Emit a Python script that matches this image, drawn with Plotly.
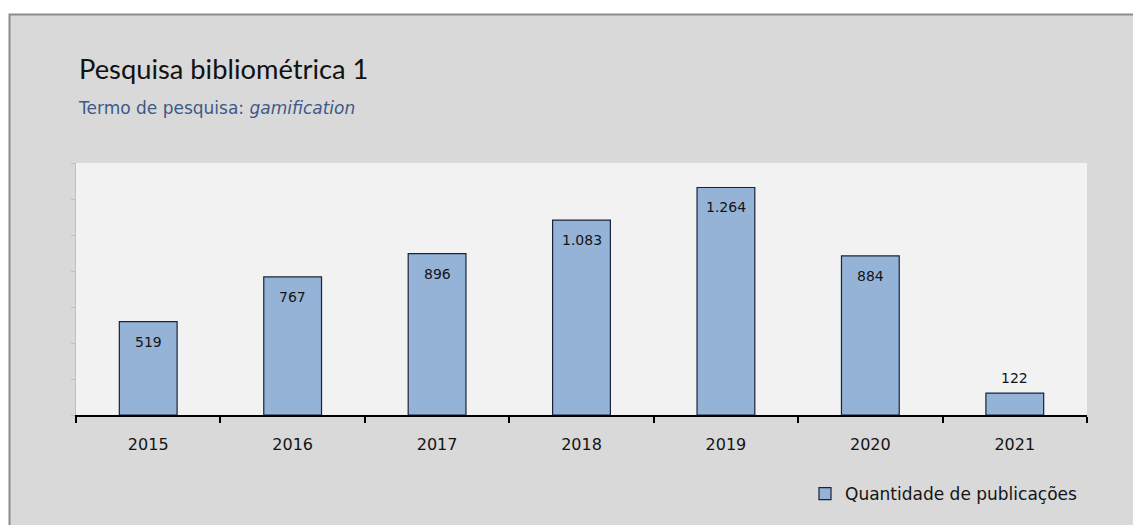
import plotly.graph_objects as go

# Publications per year for the search term "gamification"
years = ["2015", "2016", "2017", "2018", "2019", "2020", "2021"]
publications = [519, 767, 896, 1083, 1264, 884, 122]

title_text = "Pesquisa bibliométrica 1"
subtitle_text = "Termo de pesquisa: <i>gamification</i>"
series_name = "Quantidade de publicações"

W, H = 1133, 525
L, R, T, B = 76, 46, 163, 110
plot_w = W - L - R
plot_h = H - T - B


def px_x(px):
    return (px - L) / plot_w


def px_y(py):
    return (H - B - py) / plot_h


def fmt(v):
    return f"{v:,}".replace(",", ".")


fig = go.Figure()
fig.add_trace(go.Bar(
    x=years,
    y=publications,
    name=series_name,
    width=0.4,
    marker=dict(color="#95b3d7", line=dict(color="#17243a", width=1.2)),
    showlegend=True,
))

annotations = [
    dict(text=title_text, xref="paper", yref="paper", x=px_x(77), y=px_y(68),
         xanchor="left", yanchor="middle", showarrow=False,
         font=dict(family="Lato", size=27.3, color="#111111")),
    dict(text=subtitle_text, xref="paper", yref="paper", x=px_x(76), y=px_y(108),
         xanchor="left", yanchor="middle", showarrow=False,
         font=dict(family="DejaVu Sans", size=17, color="#3d5a88")),
]
# value labels: inside the bar top, or above it when the bar is short
for i, v in enumerate(publications):
    inside = v > 300
    annotations.append(dict(
        text=fmt(v), x=i, y=v, xref="x", yref="y",
        xanchor="center", yanchor="middle", showarrow=False,
        yshift=-20 if inside else 15,
        font=dict(family="DejaVu Sans", size=14, color="#141414"),
    ))

shapes = [
    # outer chart frame
    dict(type="rect", xref="paper", yref="paper", layer="below",
         x0=px_x(9.5), x1=px_x(1145), y0=px_y(540), y1=px_y(14.5),
         fillcolor="#d9d9d9", line=dict(color="#8c8c8c", width=2)),
    # plot area
    dict(type="rect", xref="paper", yref="paper", layer="below",
         x0=0, x1=1, y0=0, y1=1,
         fillcolor="#f2f2f2", line=dict(width=0)),
]

fig.update_layout(
    width=W, height=H,
    margin=dict(l=L, r=R, t=T, b=B, pad=0),
    paper_bgcolor="white",
    plot_bgcolor="rgba(0,0,0,0)",
    annotations=annotations,
    shapes=shapes,
    legend=dict(orientation="h", x=px_x(805), y=px_y(494),
                xanchor="left", yanchor="middle",
                bgcolor="rgba(0,0,0,0)",
                font=dict(family="DejaVu Sans", size=17, color="#141414")),
    xaxis=dict(
        type="category", tickson="boundaries", range=[-0.5, 6.5],
        ticks="outside", ticklen=6, tickwidth=2, tickcolor="black",
        showline=True, linecolor="black", linewidth=2,
        showgrid=False, ticklabelstandoff=14,
        tickfont=dict(family="DejaVu Sans", size=16, color="#141414"),
    ),
    yaxis=dict(
        range=[0, 1400], dtick=200, showticklabels=False,
        ticks="outside", ticklen=4, tickwidth=1, tickcolor="#c0c0c0",
        showline=True, linecolor="#c0c0c0", linewidth=1,
        showgrid=False, zeroline=False,
    ),
)

fig.write_html("out.html")
